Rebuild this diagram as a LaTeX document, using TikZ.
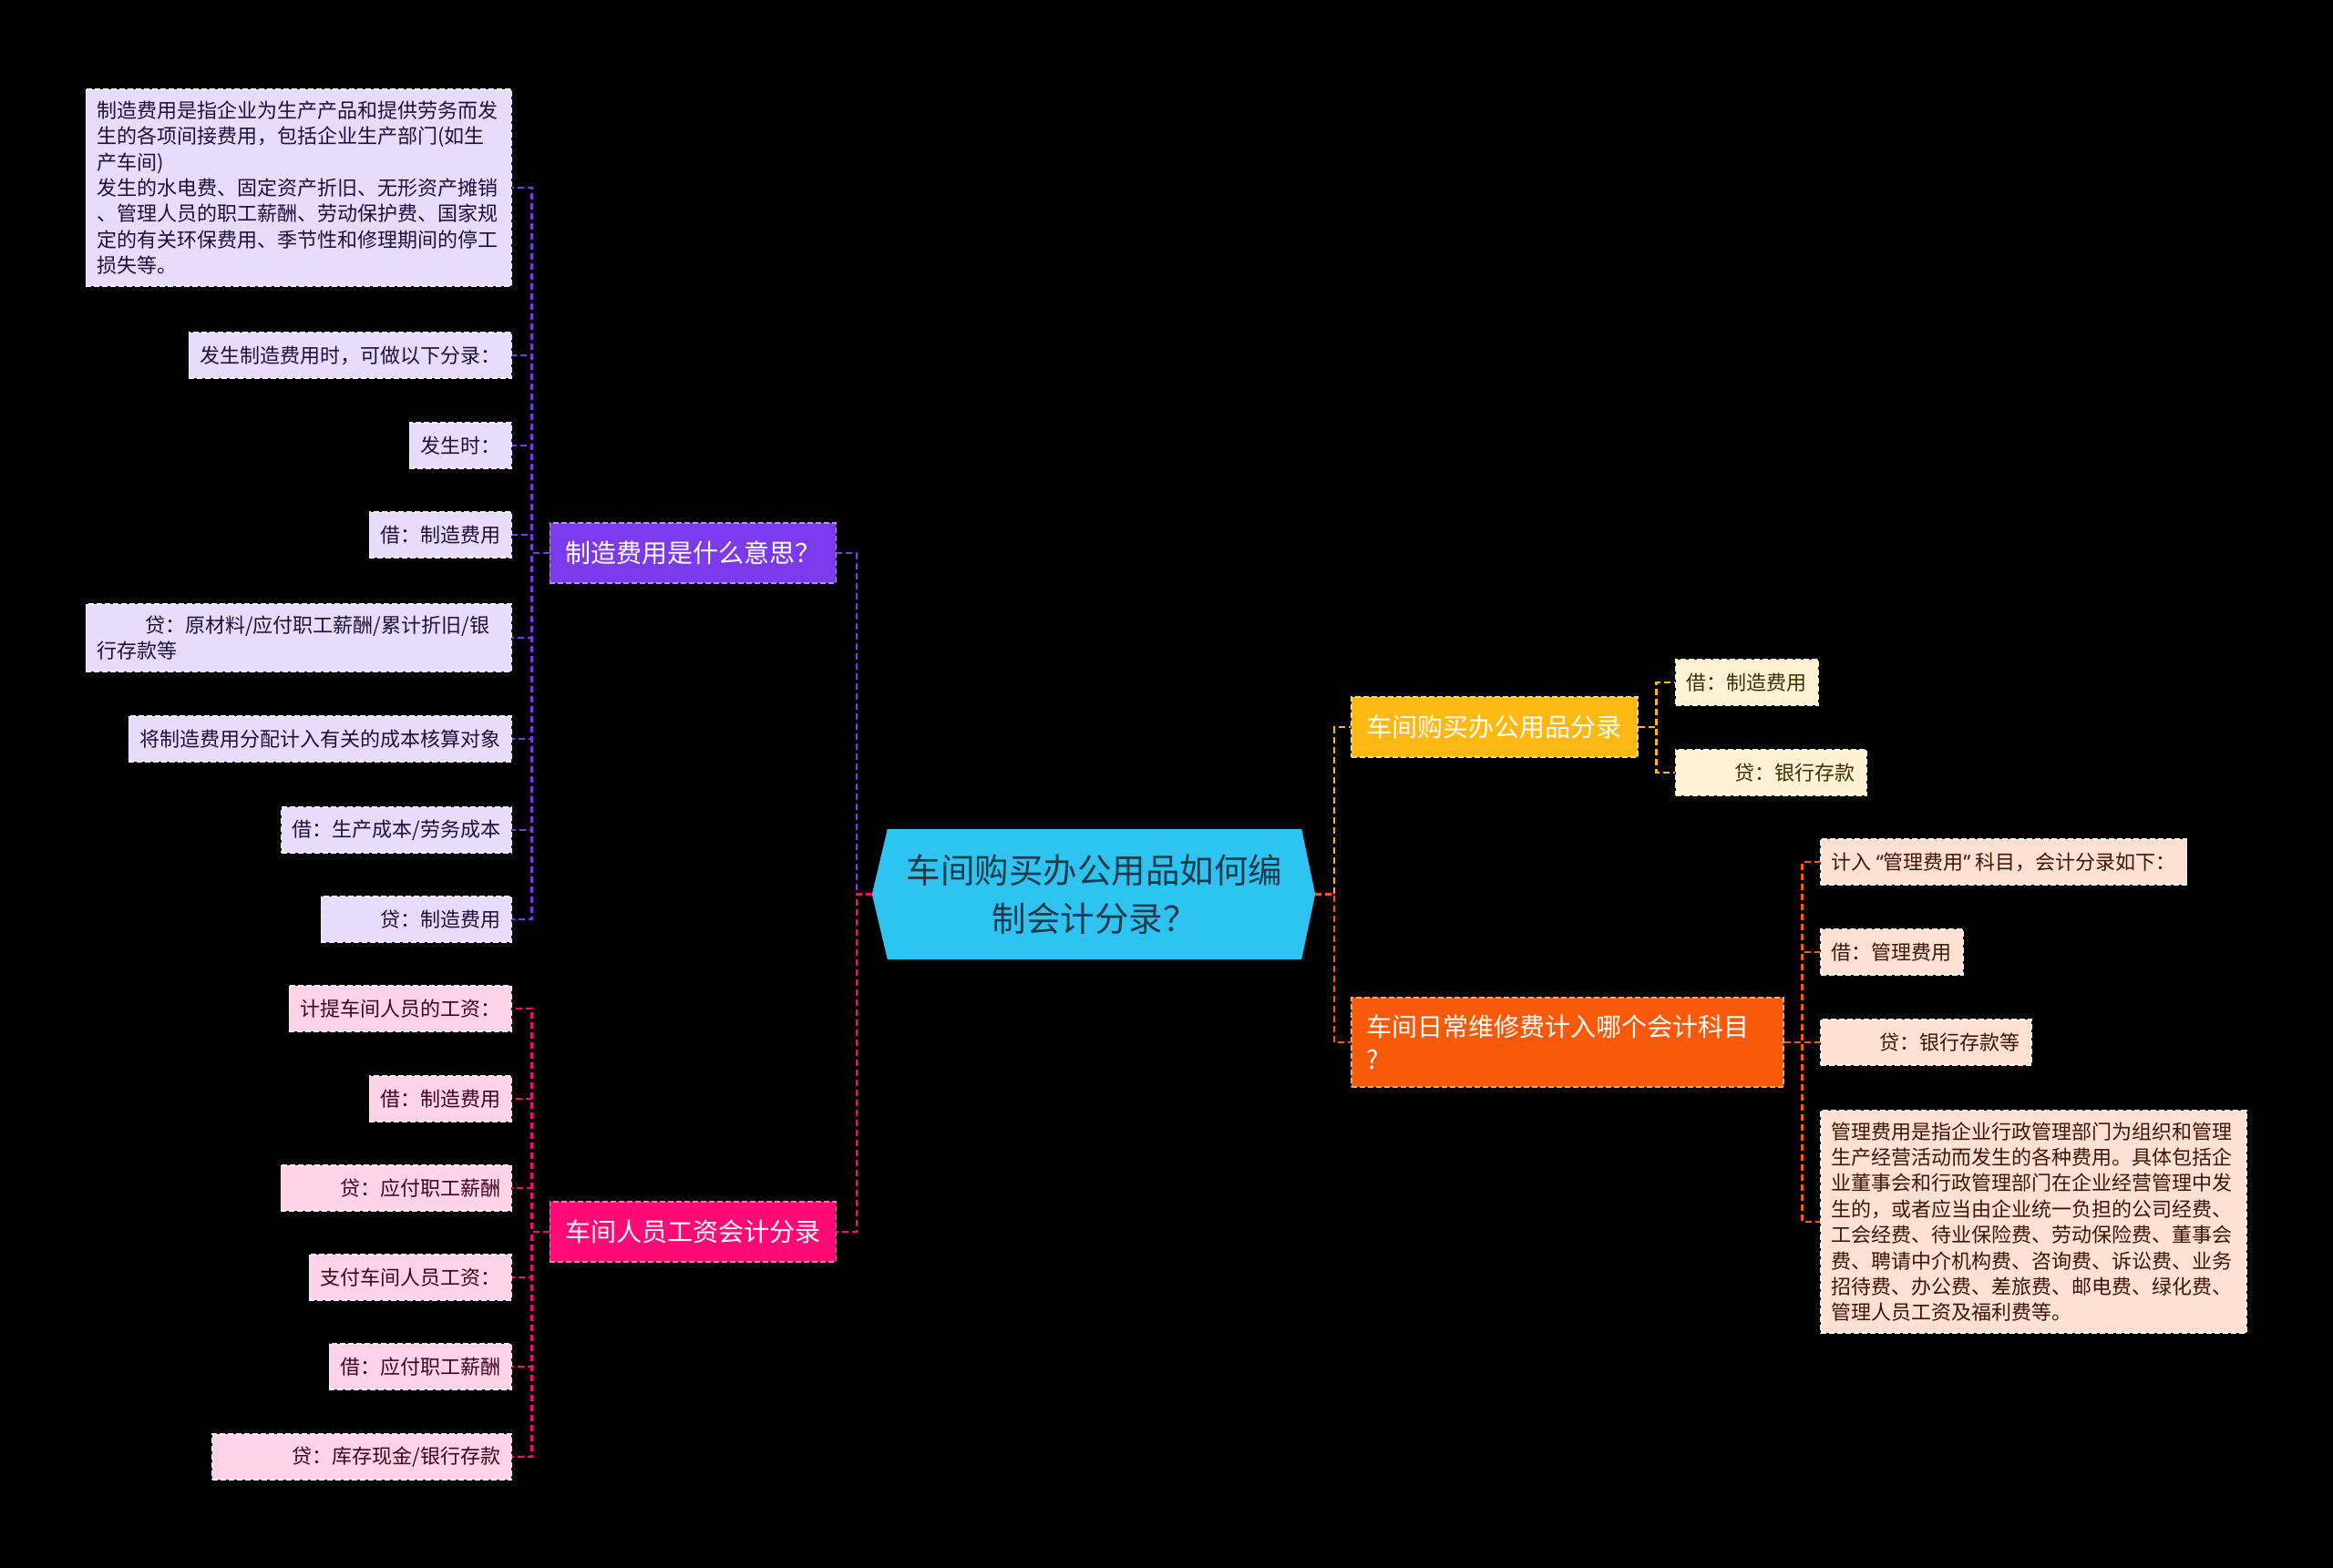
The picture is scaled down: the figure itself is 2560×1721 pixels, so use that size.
\documentclass[tikz,border=0pt]{standalone}
\usepackage{fontspec}
\setmainfont{Noto Sans CJK SC}
\newfontfamily\quotefont{Noto Sans}
\usepackage{xcolor}
\usetikzlibrary{arrows.meta,calc,positioning,backgrounds}

\definecolor{hubblue}{HTML}{2EC3F1}
\definecolor{hubtext}{HTML}{1C3A4A}
\definecolor{zzpurple}{HTML}{7C3AED}
\definecolor{gzpink}{HTML}{FF0A77}
\definecolor{bgyellow}{HTML}{FDB812}
\definecolor{wxorange}{HTML}{F85A0A}

\tikzset{
  wire/.style={draw=#1, line width=2.2pt, dash pattern=on 7pt off 4pt},
  branch/.style={fill=#1, draw=#1!55!white, dash pattern=on 6pt off 3pt, line width=1.5pt,
    text=white, font=\fontsize{28}{36}\selectfont, inner xsep=17pt, inner ysep=19pt,
    minimum height=66pt, align=left},
  leaf/.style={fill=#1!18!white, draw=#1!8!white, dash pattern=on 6pt off 3pt, line width=1.5pt,
    text=#1!25!black, font=\fontsize{22}{28.4}\selectfont, inner xsep=12pt, inner ysep=12.5pt,
    minimum height=50pt, align=left},
  hub/.style={text=hubtext, font=\fontsize{37.5}{53}\selectfont, align=center,
    minimum width=454pt, minimum height=143pt}
}

\begin{document}
\begin{tikzpicture}[x=1pt, y=-1pt]
  \useasboundingbox (0,0) rectangle (2560,1721);

  \node[hub] (hub) at (1201,981.5) {车间购买办公用品如何编\\制会计分录？};

  \node[branch=zzpurple, anchor=east] (zq) at (918,607) {制造费用是什么意思？};
  \node[branch=gzpink, anchor=east] (gz) at (918,1352) {车间人员工资会计分录};
  \node[branch=bgyellow, anchor=west] (bg) at (1482,798) {车间购买办公用品分录};
  \node[branch=wxorange, anchor=west, text width=440pt] (wx) at (1482,1144) {车间日常维修费计入哪个会计科目\\?};

  \node[leaf=zzpurple, anchor=east, text width=443pt] (z1) at (562,206) {制造费用是指企业为生产产品和提供劳务而发\\生的各项间接费用，包括企业生产部门(如生\\产车间)\\发生的水电费、固定资产折旧、无形资产摊销\\、管理人员的职工薪酬、劳动保护费、国家规\\定的有关环保费用、季节性和修理期间的停工\\损失等。};
  \node[leaf=zzpurple, anchor=east] (z2) at (562,390) {发生制造费用时，可做以下分录：};
  \node[leaf=zzpurple, anchor=east] (z3) at (562,489) {发生时：};
  \node[leaf=zzpurple, anchor=east] (z4) at (562,587) {借：制造费用};
  \node[leaf=zzpurple, anchor=east, text width=443pt] (z5) at (562,700) {\hspace*{53pt}贷：原材料/应付职工薪酬/累计折旧/银\\行存款等};
  \node[leaf=zzpurple, anchor=east] (z6) at (562,811) {将制造费用分配计入有关的成本核算对象};
  \node[leaf=zzpurple, anchor=east] (z7) at (562,911) {借：生产成本/劳务成本};
  \node[leaf=zzpurple, anchor=east] (z8) at (562,1009) {\hspace*{53pt}贷：制造费用};

  \node[leaf=gzpink, anchor=east] (g1) at (562,1107) {计提车间人员的工资：};
  \node[leaf=gzpink, anchor=east] (g2) at (562,1206) {借：制造费用};
  \node[leaf=gzpink, anchor=east] (g3) at (562,1304) {\hspace*{53pt}贷：应付职工薪酬};
  \node[leaf=gzpink, anchor=east] (g4) at (562,1402) {支付车间人员工资：};
  \node[leaf=gzpink, anchor=east] (g5) at (562,1500) {借：应付职工薪酬};
  \node[leaf=gzpink, anchor=east] (g6) at (562,1599) {\hspace*{76pt}贷：库存现金/银行存款};

  \node[leaf=bgyellow, anchor=west] (b1) at (1838,749) {借：制造费用};
  \node[leaf=bgyellow, anchor=west] (b2) at (1838,848) {\hspace*{53pt}贷：银行存款};

  \node[leaf=wxorange, anchor=west] (w1) at (1997,946) {计入\kern5pt{\quotefont“}管理费用{\quotefont”}\kern5pt 科目，会计分录如下：};
  \node[leaf=wxorange, anchor=west] (w2) at (1997,1045) {借：管理费用};
  \node[leaf=wxorange, anchor=west] (w3) at (1997,1144) {\hspace*{53pt}贷：银行存款等};
  \node[leaf=wxorange, anchor=west, text width=443pt] (w4) at (1997,1341) {管理费用是指企业行政管理部门为组织和管理\\生产经营活动而发生的各种费用。具体包括企\\业董事会和行政管理部门在企业经营管理中发\\生的，或者应当由企业统一负担的公司经费、\\工会经费、待业保险费、劳动保险费、董事会\\费、聘请中介机构费、咨询费、诉讼费、业务\\招待费、办公费、差旅费、邮电费、绿化费、\\管理人员工资及福利费等。};

  \begin{scope}[on background layer]
    \fill[black] (0,0) rectangle (2560,1721);
    \fill[hubblue] ([xshift=-17pt]hub.west) -- (hub.north west) -- (hub.north east)
      -- ([xshift=15pt]hub.east) -- (hub.south east) -- (hub.south west) -- cycle;
    \draw[wire=zzpurple] ([xshift=-17pt]hub.west) -- ++(-17,0) |- (zq.east);
    \draw[wire=gzpink] ([xshift=-17pt]hub.west) -- ++(-17,0) |- (gz.east);
    \draw[wire=bgyellow] ([xshift=15pt]hub.east) -- ++(21,0) |- (bg.west);
    \draw[wire=wxorange] ([xshift=15pt]hub.east) -- ++(21,0) |- (wx.west);

    \draw[wire=zzpurple] (zq.west) -- ++(-19,0) |- (z1.east);
    \draw[wire=zzpurple] (zq.west) -- ++(-19,0) |- (z2.east);
    \draw[wire=zzpurple] (zq.west) -- ++(-19,0) |- (z3.east);
    \draw[wire=zzpurple] (zq.west) -- ++(-19,0) |- (z4.east);
    \draw[wire=zzpurple] (zq.west) -- ++(-19,0) |- (z5.east);
    \draw[wire=zzpurple] (zq.west) -- ++(-19,0) |- (z6.east);
    \draw[wire=zzpurple] (zq.west) -- ++(-19,0) |- (z7.east);
    \draw[wire=zzpurple] (zq.west) -- ++(-19,0) |- (z8.east);

    \draw[wire=gzpink] (gz.west) -- ++(-19,0) |- (g1.east);
    \draw[wire=gzpink] (gz.west) -- ++(-19,0) |- (g2.east);
    \draw[wire=gzpink] (gz.west) -- ++(-19,0) |- (g3.east);
    \draw[wire=gzpink] (gz.west) -- ++(-19,0) |- (g4.east);
    \draw[wire=gzpink] (gz.west) -- ++(-19,0) |- (g5.east);
    \draw[wire=gzpink] (gz.west) -- ++(-19,0) |- (g6.east);

    \draw[wire=bgyellow] (bg.east) -- ++(20,0) |- (b1.west);
    \draw[wire=bgyellow] (bg.east) -- ++(20,0) |- (b2.west);

    \draw[wire=wxorange] (wx.east) -- ++(20,0) |- (w1.west);
    \draw[wire=wxorange] (wx.east) -- ++(20,0) |- (w2.west);
    \draw[wire=wxorange] (wx.east) -- ++(20,0) |- (w3.west);
    \draw[wire=wxorange] (wx.east) -- ++(20,0) |- (w4.west);
  \end{scope}
\end{tikzpicture}
\end{document}
